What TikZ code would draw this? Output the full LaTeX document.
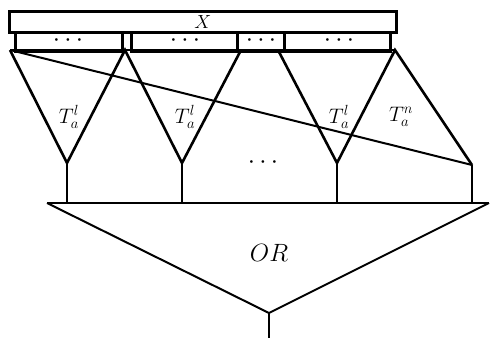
\RequirePackage{fix-cm}
\documentclass[tikz,border=0pt]{standalone}
\begin{document}
\begin{tikzpicture}[x=1pt,y=-1pt,line width=2.6pt,
  rectbox/.style={draw,inner sep=0pt,anchor=north west},
  lbl/.style={font=\fontsize{21}{24}\selectfont,inner sep=0pt},
  dots/.style={font=\fontsize{26}{28}\selectfont,inner sep=0pt},
  thin/.style={line width=2pt}]
\useasboundingbox (0,0) rectangle (490,343);
% top rectangle
\node[rectbox,minimum width=387pt,minimum height=21pt,
  font=\fontsize{19}{21}\selectfont] (X) at (8,10) {$X$};
% boxes
\node[rectbox,minimum width=107pt,minimum height=19pt] (B1) at (14,31) {};
\node[rectbox,minimum width=106pt,minimum height=19pt] (B2) at (130,31) {};
\node[rectbox,minimum width=47pt,minimum height=19pt] (B3) at (236,31) {};
\node[rectbox,minimum width=106pt,minimum height=19pt] (B4) at (283,31) {};
\node[dots] (d1) at (68,41) {$\cdots$};
\node[dots] (d2) at (185,41) {$\cdots$};
\node[dots] (d3) at (261,41) {$\cdots$};
\node[dots] (d4) at (339,41) {$\cdots$};
% triangle vertices
\coordinate (a0) at (10,50);
\coordinate (a1) at (125,50);
\coordinate (a2) at (241,50);
\coordinate (a3) at (278,50);
\coordinate (a4) at (395,50);
\coordinate (b1) at (67,163);
\coordinate (b2) at (182,163);
\coordinate (b3) at (337,163);
\coordinate (b4) at (472,165);
\coordinate (c1) at (67,203);
\coordinate (c2) at (182,203);
\coordinate (c3) at (337,203);
\coordinate (c4) at (472,203);
\coordinate (oL) at (47,203);
\coordinate (oR) at (489,203);
\coordinate (oB) at (269,313);
\coordinate (oE) at (269,338);
\draw (a0) -- (a4);
\draw[line join=miter] (a0) -- (b1) -- (a1) -- (b2) -- (a2);
\draw[line join=miter] (a3) -- (b3) -- (a4) -- (b4);
\draw[thin] (a0) -- (b4);
\draw (b1) -- (c1);
\draw (b2) -- (c2);
\draw (b3) -- (c3);
\draw (b4) -- (c4);
\draw[thin] (oL) -- (oR);
\draw[thin] (oL) -- (oB) -- (oR);
\draw[thin] (oB) -- (oE);
% labels
\node[lbl] (t1) at (69,117) {$T_a^l$};
\node[lbl] (t2) at (185,117) {$T_a^l$};
\node[lbl] (t3) at (339,117) {$T_a^l$};
\node[lbl] (t4) at (401,117) {$T_a^n$};
\node[dots] (dm) at (263,163) {$\cdots$};
\node[lbl,font=\fontsize{25}{28}\selectfont] (OR) at (269,253) {$OR$};
\end{tikzpicture}
\end{document}
